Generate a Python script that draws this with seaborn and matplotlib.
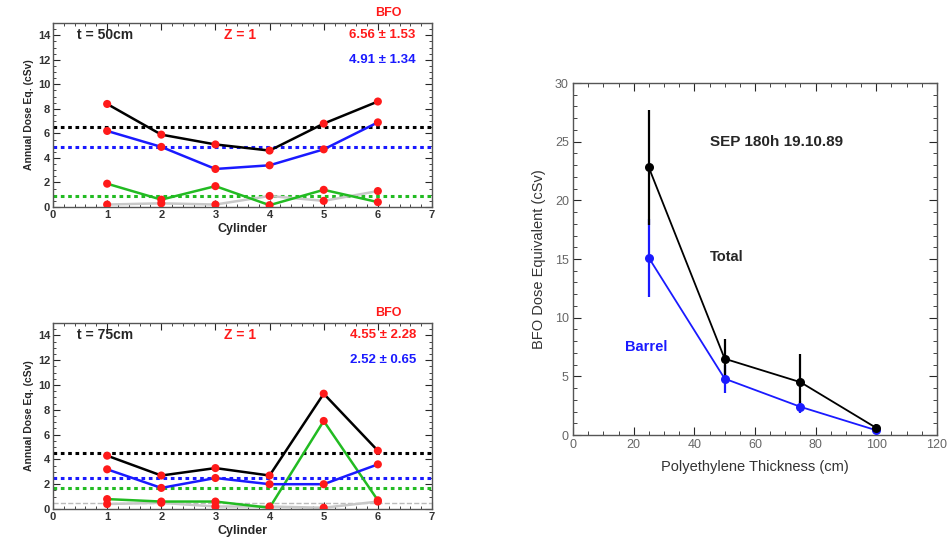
import matplotlib
matplotlib.use("Agg")
import matplotlib.pyplot as plt
import seaborn as sns
import pandas as pd
from matplotlib.ticker import MultipleLocator

sns.set_style("ticks")
plt.rcParams['font.family'] = ['Liberation Sans', 'DejaVu Sans']

# ---------------- data ----------------
cylinders = [1, 2, 3, 4, 5, 6]

# t = 50 cm
t50_total = [8.4, 5.9, 5.1, 4.6, 6.8, 8.6]
t50_barrel = [6.2, 4.9, 3.1, 3.4, 4.7, 6.9]
t50_green = [1.9, 0.6, 1.7, 0.15, 1.4, 0.4]
t50_gray = [0.2, 0.3, 0.2, 0.9, 0.5, 1.3]
t50_means = {"black": 6.56, "blue": 4.91, "green": 0.9}
t50_labels = ["t = 50cm", "Z = 1", "6.56 \u00b1 1.53", "4.91 \u00b1 1.34"]

# t = 75 cm
t75_total = [4.3, 2.7, 3.3, 2.7, 9.3, 4.7]
t75_barrel = [3.2, 1.7, 2.5, 2.0, 2.0, 3.6]
t75_green = [0.8, 0.6, 0.6, 0.1, 7.1, 0.7]
t75_gray = [0.4, 0.5, 0.2, 0.2, 0.1, 0.6]
t75_means = {"black": 4.55, "blue": 2.52, "green": 1.7}
t75_labels = ["t = 75cm", "Z = 1", "4.55 \u00b1 2.28", "2.52 \u00b1 0.65"]

# Right panel
thickness = [25, 50, 75, 100]
total_dose = [22.8, 6.5, 4.5, 0.6]
total_err = [4.9, 1.7, 2.4, 0.3]
barrel_dose = [15.1, 4.8, 2.4, 0.4]
barrel_err = [3.3, 1.2, 0.5, 0.2]

W, H = 949, 544
fig = plt.figure(figsize=(W / 100, H / 100), dpi=100)

def frac(l, t, r, b):
    return [l / W, 1 - b / H, (r - l) / W, (b - t) / H]

ax1 = fig.add_axes(frac(53, 23, 432, 207))
ax2 = fig.add_axes(frac(53, 323, 432, 509))
ax3 = fig.add_axes(frac(573, 83, 937, 435))

line_colors = {"black": "black", "blue": "#1a1aff", "green": "#22bb22", "gray": "#c8c8c8"}


def cyl_panel(ax, tot, bar, grn, gry, means, labels):
    df = pd.DataFrame({"Cylinder": cylinders * 4,
                       "Dose": gry + grn + bar + tot,
                       "series": ["gray"] * 6 + ["green"] * 6 + ["blue"] * 6 + ["black"] * 6})
    for key, val in means.items():
        ax.axhline(val, color=line_colors[key], ls=(0, (1.2, 1.2)), lw=2.2, zorder=1)
    sns.lineplot(data=df, x="Cylinder", y="Dose", hue="series",
                 palette=line_colors, hue_order=["gray", "green", "blue", "black"],
                 lw=1.8, legend=False, ax=ax, zorder=2)
    sns.scatterplot(data=df, x="Cylinder", y="Dose", color="#ff1a1a", s=34,
                    edgecolor="none", legend=False, ax=ax, zorder=3)
    ax.set_xlim(0, 7)
    ax.set_ylim(0, 15)
    ax.xaxis.set_major_locator(MultipleLocator(1))
    ax.xaxis.set_minor_locator(MultipleLocator(0.2))
    ax.yaxis.set_minor_locator(MultipleLocator(0.5))
    ax.set_yticks([0, 2, 4, 6, 8, 10, 12, 14])
    ax.tick_params(which="both", direction="in", top=True, right=True, labelsize=8, pad=2)
    ax.tick_params(which="major", length=5)
    ax.tick_params(which="minor", length=2.5)
    for lab in ax.get_xticklabels() + ax.get_yticklabels():
        lab.set_fontweight("bold")
        lab.set_color("#333333")
    ax.set_xlabel("Cylinder", fontsize=9, fontweight="bold", labelpad=2)
    ax.set_ylabel("Annual Dose Eq. (cSv)", fontsize=7.5, fontweight="bold", labelpad=3)
    for s in ax.spines.values():
        s.set_color("#555555")
        s.set_linewidth(1.0)
    ax.text(0.45, 14.0, labels[0], fontsize=10, fontweight="bold", va="center")
    ax.text(3.15, 14.0, labels[1], fontsize=10, fontweight="bold", va="center", color="#ff1a1a")
    ax.text(5.95, 15.3, "BFO", fontsize=9, fontweight="bold", va="bottom", color="#ff1a1a")
    ax.text(6.7, 14.0, labels[2], fontsize=9.5, fontweight="bold", va="center", ha="right", color="#ff1a1a")
    ax.text(6.7, 12.0, labels[3], fontsize=9.5, fontweight="bold", va="center", ha="right", color="#1a1aff")


cyl_panel(ax1, t50_total, t50_barrel, t50_green, t50_gray, t50_means, t50_labels)
cyl_panel(ax2, t75_total, t75_barrel, t75_green, t75_gray, t75_means, t75_labels)
ax2.axhline(0.5, color="#bbbbbb", ls="--", lw=1.0, zorder=1)

# Right panel
df2 = pd.DataFrame({"Thickness": thickness * 2,
                    "Dose": total_dose + barrel_dose,
                    "series": ["Total"] * 4 + ["Barrel"] * 4})
ax3.errorbar(thickness, barrel_dose, yerr=barrel_err, fmt="none", ecolor="#1a1aff", elinewidth=1.6, zorder=2)
ax3.errorbar(thickness, total_dose, yerr=total_err, fmt="none", ecolor="black", elinewidth=1.6, zorder=3)
sns.lineplot(data=df2, x="Thickness", y="Dose", hue="series",
             palette={"Total": "black", "Barrel": "#1a1aff"}, hue_order=["Barrel", "Total"],
             marker="o", markersize=6.5, markeredgecolor="none", lw=1.3, legend=False, ax=ax3, zorder=4)
ax3.set_xlim(0, 120)
ax3.set_ylim(0, 30)
ax3.xaxis.set_major_locator(MultipleLocator(20))
ax3.xaxis.set_minor_locator(MultipleLocator(5))
ax3.yaxis.set_major_locator(MultipleLocator(5))
ax3.yaxis.set_minor_locator(MultipleLocator(1))
ax3.tick_params(which="both", direction="in", top=True, right=True, labelsize=9, pad=3, labelcolor="#666666")
ax3.tick_params(which="major", length=6)
ax3.tick_params(which="minor", length=3)
ax3.set_xlabel("Polyethylene Thickness (cm)", fontsize=10.5, color="#333333", labelpad=6)
ax3.set_ylabel("BFO Dose Equivalent (cSv)", fontsize=10.5, color="#333333", labelpad=6)
for s in ax3.spines.values():
    s.set_color("#555555")
    s.set_linewidth(1.0)
ax3.text(45, 25.0, "SEP 180h 19.10.89", fontsize=11, fontweight="bold", va="center")
ax3.text(45, 15.2, "Total", fontsize=10.5, fontweight="bold", va="center")
ax3.text(17, 7.5, "Barrel", fontsize=10.5, fontweight="bold", va="center", color="#1a1aff")

fig.savefig("out.png", dpi=100)
